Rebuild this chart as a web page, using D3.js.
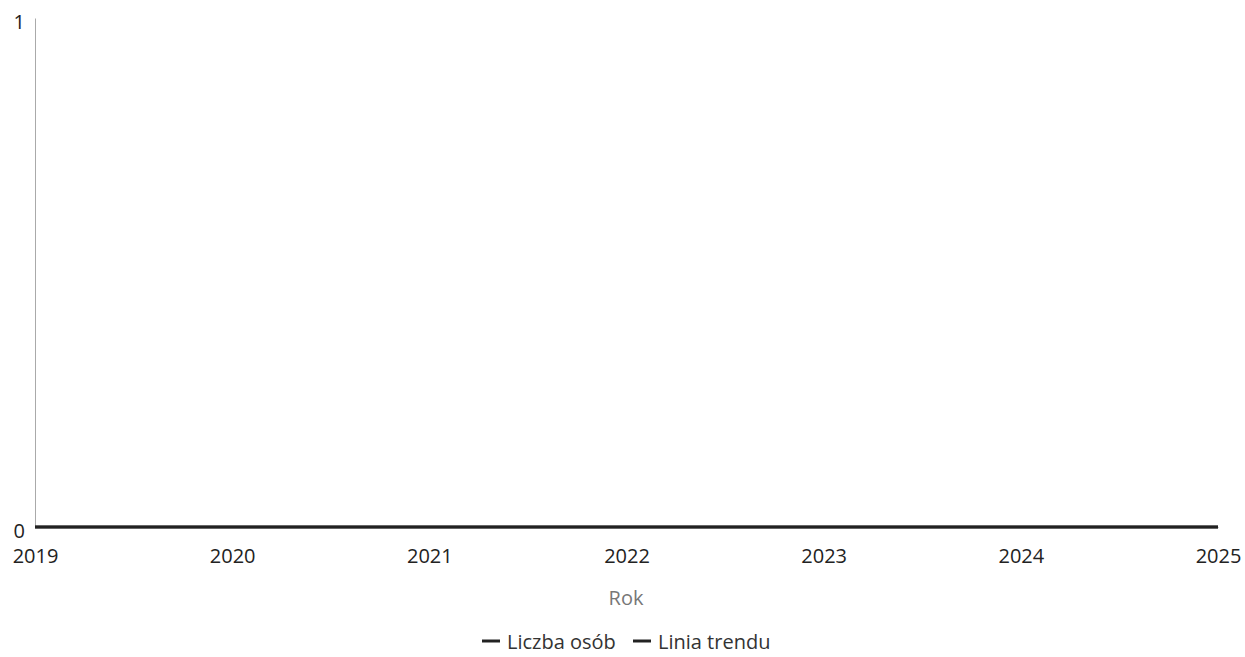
<!DOCTYPE html>
<html><head><meta charset="utf-8">
<script src="https://cdn.jsdelivr.net/npm/d3@7"></script>
<style>
html,body{margin:0;padding:0;background:#fff;}
svg{display:block;font-family:"Open Sans",sans-serif;}
</style></head>
<body>
<svg id="c" width="1245" height="657"></svg>
<script>
const years = [2019, 2020, 2021, 2022, 2023, 2024, 2025];
const liczbaOsob = [0, 0, 0, 0, 0, 0, 0];
const liniaTrendu = [0, 0, 0, 0, 0, 0, 0];
const yTicks = [0, 1];
const seriesNames = ["Liczba osób", "Linia trendu"];

const svg = d3.select("#c");
const m = {left: 35, right: 27, top: 18, bottom: 130};
const W = 1245, H = 657;
const x = d3.scaleLinear().domain([2019, 2025]).range([m.left, W - m.right]);
const y = d3.scaleLinear().domain([0, 1]).range([H - m.bottom, m.top]);

// y axis
const ya = svg.append("g").attr("transform", `translate(${m.left},0)`)
  .call(d3.axisLeft(y).tickValues(yTicks).tickFormat(d3.format("d")).tickSize(0).tickPadding(10));
ya.select(".domain").attr("stroke", "#aaa").attr("stroke-width", 1);
ya.selectAll("text").attr("font-size", 20).attr("fill", "#222").attr("font-family", "Open Sans").attr("dy", "0.5em");

// x axis
const xa = svg.append("g").attr("transform", `translate(0,${H - m.bottom})`)
  .call(d3.axisBottom(x).tickValues(years).tickFormat(d3.format("d")).tickSize(0).tickPadding(22));
xa.select(".domain").attr("stroke", "#aaa").attr("stroke-width", 1);
xa.selectAll("text").attr("font-size", 20).attr("fill", "#222").attr("font-family", "Open Sans");

svg.append("text").attr("x", 626).attr("y", 605)
  .attr("text-anchor", "middle").attr("font-size", 20).attr("fill", "#777").text("Rok");

const line = d3.line().x((d, i) => x(years[i])).y(d => y(d));
svg.append("path").datum(liczbaOsob).attr("d", line).attr("fill", "none")
  .attr("stroke", "#333").attr("stroke-width", 3.5);
svg.append("path").datum(liniaTrendu).attr("d", line).attr("fill", "none")
  .attr("stroke", "#222").attr("stroke-width", 2);

// legend
const lg = svg.append("g").attr("font-size", 20).attr("fill", "#333");
const items = [{name: seriesNames[0], x: 482}, {name: seriesNames[1], x: 633}];
items.forEach(it => {
  lg.append("line").attr("x1", it.x).attr("x2", it.x + 18).attr("y1", 641).attr("y2", 641)
    .attr("stroke", "#222").attr("stroke-width", 3);
  lg.append("text").attr("x", it.x + 25).attr("y", 649).text(it.name);
});
</script>
</body></html>
